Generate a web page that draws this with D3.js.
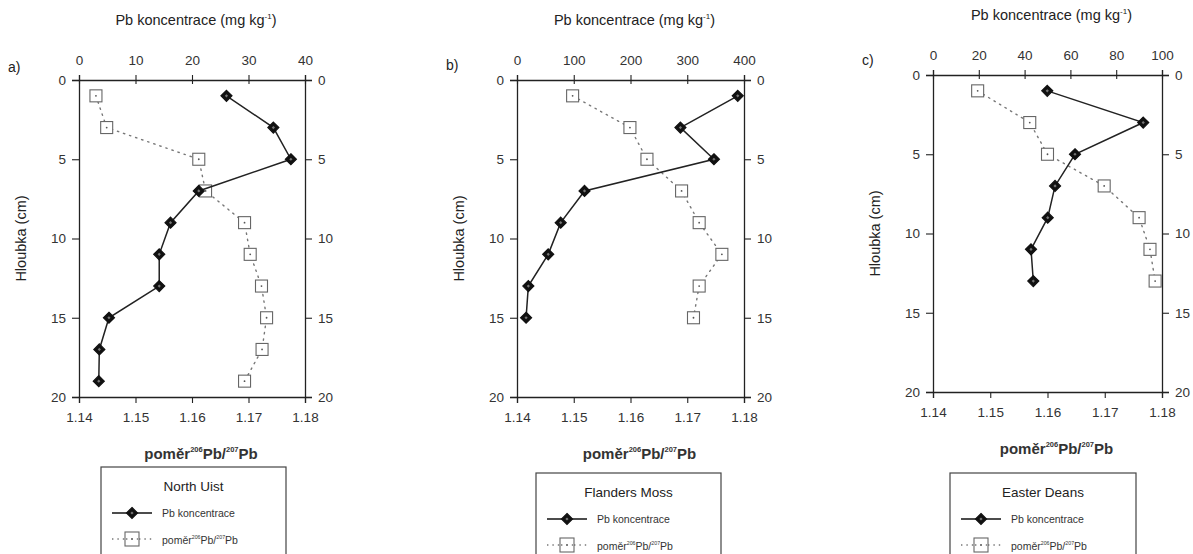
<!DOCTYPE html>
<html><head><meta charset="utf-8">
<script src="https://cdn.jsdelivr.net/npm/d3@7"></script>
<style>
body{margin:0;background:#fff;}
svg{font-family:"Liberation Sans",Arial,sans-serif;}
</style></head>
<body><svg id="c" width="1193" height="554"></svg>
<script>
// ---- data ----
const depthA = [1,3,5,7,9,11,13,15,17,19];
const pbA    = [26.1,34.4,37.5,21.2,16.2,14.2,14.2,5.3,3.6,3.5];
const ratioA = [1.1430,1.1449,1.1612,1.1624,1.1693,1.1703,1.1723,1.1732,1.1724,1.1693];

const depthB = [1,3,5,7,9,11,13,15];
const pbB    = [389,288,347,119,77,55,20,16];
const ratioB = [1.1498,1.1599,1.1629,1.1690,1.1721,1.1761,1.1721,1.1711];

const depthC = [1,3,5,7,9,11,13];
const pbC    = [49.9,91.8,62.0,53.3,50.1,42.8,43.8];
const ratioC = [1.1478,1.1569,1.1600,1.1699,1.1760,1.1779,1.1788];

const pbTicksA = [0,10,20,30,40];
const pbTicksB = [0,100,200,300,400];
const pbTicksC = [0,20,40,60,80,100];
const ratioTicks = [1.14,1.15,1.16,1.17,1.18];
const depthTicks = [0,5,10,15,20];
const panelLabels = ["a)","b)","c)"];
const siteNames = ["North Uist","Flanders Moss","Easter Deans"];
const topTitle = "Pb koncentrace (mg kg";
const yTitle = "Hloubka (cm)";
const legendPb = "Pb koncentrace";

// ---- layout ----
const panels = [
  {depth:depthA,pb:pbA,ratio:ratioA,pbTicks:pbTicksA,pbMax:40,minor:2,
   L:79,R:305,T:80,B:397,lab:[8,72],leg:{x:101,y:467,w:185}},
  {depth:depthB,pb:pbB,ratio:ratioB,pbTicks:pbTicksB,pbMax:400,minor:20,
   L:517,R:744,T:80,B:397,lab:[446,70],leg:{x:536,y:473,w:185}},
  {depth:depthC,pb:pbC,ratio:ratioC,pbTicks:pbTicksC,pbMax:100,minor:5,
   L:933,R:1162,T:75,B:392,lab:[862,65],leg:{x:950,y:473,w:186}}
];

const svg = d3.select("#c");
const ink = "#222";

function ratioLabel(sel, x, y, size, anchor){
  const t = sel.append("text").attr("x",x).attr("y",y).attr("font-size",size)
    .attr("text-anchor",anchor).attr("fill",ink);
  t.append("tspan").text("poměr");
  t.append("tspan").attr("font-size",size*0.5).attr("dy",-size*0.5).text("206");
  t.append("tspan").attr("dy",size*0.5).text("Pb/");
  t.append("tspan").attr("font-size",size*0.5).attr("dy",-size*0.5).text("207");
  t.append("tspan").attr("dy",size*0.5).text("Pb");
  return t;
}

function diamond(g, x, y, s){
  g.append("path").attr("d",`M${x},${y-s}L${x+s},${y}L${x},${y+s}L${x-s},${y}Z`)
    .attr("fill","#111").attr("stroke","#111").attr("stroke-width",1.2);
  g.append("path").attr("d",`M${x},${y-1.6}L${x+1.6},${y}L${x},${y+1.6}L${x-1.6},${y}Z`)
    .attr("fill","#777");
}
function square(g, x, y, s){
  g.append("rect").attr("x",x-s).attr("y",y-s).attr("width",2*s).attr("height",2*s)
    .attr("fill","#fff").attr("stroke","#666").attr("stroke-width",1.1);
  g.append("circle").attr("cx",x).attr("cy",y).attr("r",0.9).attr("fill","#555");
}

panels.forEach((p,i)=>{
  const g = svg.append("g");
  const xPb = d3.scaleLinear().domain([0,p.pbMax]).range([p.L,p.R]);
  const xR = d3.scaleLinear().domain([1.14,1.18]).range([p.L,p.R]);
  const y = d3.scaleLinear().domain([0,20]).range([p.T,p.B]);

  // frame lines
  const axStyle = s => s.attr("stroke",ink).attr("stroke-width",1.3);
  // left axis
  const left = g.append("g").attr("transform",`translate(${p.L},0)`);
  left.call(d3.axisLeft(y).tickValues(d3.range(0,21,1)).tickSize(4).tickFormat(""));
  left.call(d3.axisLeft(y).tickValues(depthTicks).tickSize(7).tickPadding(6).tickFormat(d3.format("d")));
  // right axis
  const right = g.append("g").attr("transform",`translate(${p.R},0)`);
  right.call(d3.axisRight(y).tickValues(d3.range(0,21,1)).tickSize(4).tickFormat(""));
  right.call(d3.axisRight(y).tickValues(depthTicks).tickSize(7).tickPadding(6).tickFormat(d3.format("d")));
  // top axis (Pb)
  const top = g.append("g").attr("transform",`translate(0,${p.T})`);
  top.call(d3.axisTop(xPb).tickValues(d3.range(0,p.pbMax+0.001,p.minor)).tickSize(-4).tickFormat(""));
  top.call(d3.axisTop(xPb).tickValues(p.pbTicks).tickSize(5).tickPadding(10).tickFormat(d3.format("d")));
  top.selectAll(".tick").filter(d=>p.pbTicks.includes(d)).append("line")
    .attr("y2",4).attr("stroke",ink).attr("stroke-width",1.2);
  // bottom axis (ratio)
  const bot = g.append("g").attr("transform",`translate(0,${p.B})`);
  bot.call(d3.axisBottom(xR).tickValues(ratioTicks).tickSize(6).tickPadding(9).tickFormat(d3.format(".2f")));

  g.selectAll(".domain").attr("stroke",ink).attr("stroke-width",1.3);
  g.selectAll(".tick line").attr("stroke",ink).attr("stroke-width",1.1);
  g.selectAll(".tick text").attr("font-size",13.5).attr("fill","#333")
    .attr("font-family","Liberation Sans, Arial, sans-serif");

  // titles
  const tt = g.append("text").attr("x",(p.L+p.R)/2+4).attr("y",p.T-55)
    .attr("text-anchor","middle").attr("font-size",14.5).attr("fill",ink);
  tt.append("tspan").text(topTitle);
  tt.append("tspan").attr("font-size",8).attr("dy",-6).text("-1");
  tt.append("tspan").attr("dy",6).text(")");

  g.append("text").attr("x",p.lab[0]).attr("y",p.lab[1]).attr("font-size",14)
    .attr("fill",ink).text(panelLabels[i]);

  g.append("text").attr("transform",`translate(${p.L-53},${(p.T+p.B)/2}) rotate(-90)`)
    .attr("text-anchor","middle").attr("font-size",14.5).attr("fill",ink).text(yTitle);

  ratioLabel(g,(p.L+p.R)/2+9,p.B+62,15,"middle").attr("font-weight","bold").attr("fill","#333");

  // ratio series (dotted)
  const line = d3.line();
  g.append("path").attr("d",line(p.depth.map((d,k)=>[xR(p.ratio[k]),y(d)])))
    .attr("fill","none").attr("stroke","#777").attr("stroke-width",1.4)
    .attr("stroke-dasharray","1.4,5").attr("stroke-linecap","round");
  p.depth.forEach((d,k)=>square(g,xR(p.ratio[k]),y(d),6));

  // Pb series (solid)
  g.append("path").attr("d",line(p.depth.map((d,k)=>[xPb(p.pb[k]),y(d)])))
    .attr("fill","none").attr("stroke","#222").attr("stroke-width",1.5);
  p.depth.forEach((d,k)=>diamond(g,xPb(p.pb[k]),y(d),5.5));

  // legend
  const lg = g.append("g").attr("transform",`translate(${p.leg.x},${p.leg.y})`);
  lg.append("rect").attr("x",0).attr("y",0).attr("width",p.leg.w).attr("height",110)
    .attr("fill","#fff").attr("stroke","#444").attr("stroke-width",1.2);
  lg.append("text").attr("x",p.leg.w/2).attr("y",24).attr("text-anchor","middle")
    .attr("font-size",13.5).attr("fill",ink).text(siteNames[i]);
  lg.append("line").attr("x1",11).attr("x2",51).attr("y1",46).attr("y2",46)
    .attr("stroke","#111").attr("stroke-width",1.6);
  diamond(lg,31,46,5.5);
  lg.append("text").attr("x",61).attr("y",50).attr("font-size",10.5).attr("fill","#333").text(legendPb);
  lg.append("line").attr("x1",11).attr("x2",51).attr("y1",72).attr("y2",72)
    .attr("stroke","#777").attr("stroke-width",1.3).attr("stroke-dasharray","1.4,4");
  square(lg,31,72,7);
  lg.append("line").attr("x1",25).attr("x2",37).attr("y1",72).attr("y2",72)
    .attr("stroke","#777").attr("stroke-width",1.3).attr("stroke-dasharray","1.4,4");
  ratioLabel(lg,61,77,10.5,"start").attr("fill","#333");
});
</script></body></html>
